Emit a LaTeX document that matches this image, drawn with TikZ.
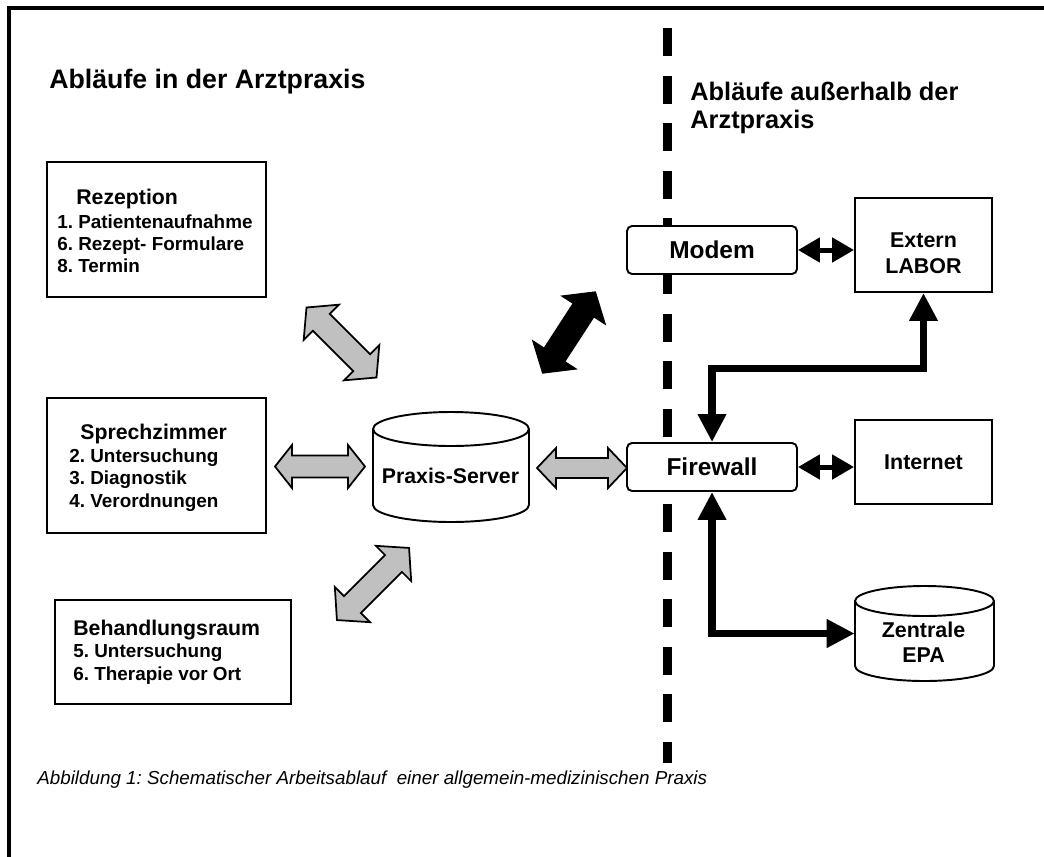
\documentclass[tikz,border=0pt]{standalone}
\usepackage{fontspec}
\setmainfont{Liberation Sans}
\usetikzlibrary{arrows.meta}
\definecolor{arrowgray}{HTML}{C0C0C0}
\frenchspacing
\tikzset{
  pics/dblarrow/.style n args={4}{code={
    \path[pic actions] ({-#1/2},0) -- ({-#1/2+#2},#3) -- ({-#1/2+#2},#4) -- ({#1/2-#2},#4)
      -- ({#1/2-#2},#3) -- ({#1/2},0) -- ({#1/2-#2},-#3) -- ({#1/2-#2},-#4)
      -- ({-#1/2+#2},-#4) -- ({-#1/2+#2},-#3) -- cycle;
  }}
}
\begin{document}
\frenchspacing
\begin{tikzpicture}[x=0.02cm,y=-0.02cm,
  box/.style={draw, line width=1.1pt, inner sep=0pt, fill=white},
  rbox/.style={box, rounded corners=0.1cm},
  ghost/.style={inner sep=0pt},
  hd/.style={anchor=base west, inner sep=0pt, font=\fontsize{12.1}{14}\selectfont\bfseries},
  itm/.style={anchor=base west, inner sep=0pt, font=\fontsize{10.75}{13}\selectfont\bfseries},
  title/.style={anchor=base west, inner sep=0pt, font=\fontsize{14.45}{17}\selectfont\bfseries},
  big/.style={font=\fontsize{13.9}{16}\selectfont\bfseries},
  mid/.style={font=\fontsize{12.2}{14}\selectfont\bfseries},
  midb/.style={anchor=base, inner sep=0pt, mid},
  garrow/.style={draw, line width=1pt, fill=arrowgray, line join=miter},
  barrow/.style={draw, line width=1pt, fill=black, line join=miter},
  conn/.style={line width=0.15cm, {Triangle[length=0.56cm,width=0.54cm]}-{Triangle[length=0.56cm,width=0.54cm]}},
  sconn/.style={line width=0.1cm, {Triangle[length=0.44cm,width=0.48cm]}-{Triangle[length=0.44cm,width=0.48cm]}},
  cyl/.style={draw, line width=1.1pt, fill=white}
]
\useasboundingbox (0,0) rectangle (1044,856);
% frame
\draw[line width=2pt] (1050,8) -- (9,8) -- (9,860);
% dashed separator
\draw[line width=0.18cm, dash pattern=on 0.56cm off 0.392cm] (667.5,28) -- (667.5,763);

% titles
\node[title, font=\fontsize{15.2}{18}\selectfont\bfseries] (t1) at (49,88) {Abläufe in der Arztpraxis};
\node[title] (t2) at (690,100) {Abläufe außerhalb der};
\node[title] (t3) at (690,128) {Arztpraxis};

% left boxes
\node[box, minimum width=4.38cm, minimum height=2.7cm] (rez) at (156.5,229.5) {};
\node[hd] (rez0) at (76,204) {Rezeption};
\node[itm] (rez1) at (57,228) {1. Patientenaufnahme};
\node[itm] (rez2) at (57,250) {6. Rezept- Formulare};
\node[itm] (rez3) at (57,272) {8. Termin};

\node[box, minimum width=4.38cm, minimum height=2.7cm] (spz) at (156.5,465.5) {};
\node[hd] (spz0) at (80,439) {Sprechzimmer};
\node[itm] (spz1) at (69,462) {2. Untersuchung};
\node[itm] (spz2) at (69,484) {3. Diagnostik};
\node[itm] (spz3) at (69,507) {4. Verordnungen};

\node[box, minimum width=4.72cm, minimum height=2.08cm] (beh) at (173,652) {};
\node[hd] (beh0) at (73,635) {Behandlungsraum};
\node[itm] (beh1) at (73,657) {5. Untersuchung};
\node[itm] (beh2) at (73,680) {6. Therapie vor Ort};

% server cylinder
\node[ghost, minimum width=3.12cm, minimum height=2.2cm] (srv) at (451,467) {};
\draw[cyl] (373,429) -- (373,505) arc[start angle=180, end angle=360, x radius=1.56cm, y radius=0.34cm] -- (529,429);
\draw[cyl] (451,429) ellipse[x radius=1.56cm, y radius=0.34cm];
\node[anchor=base, inner sep=0pt, font=\fontsize{12.1}{14}\selectfont\bfseries] (srvt) at (450.5,483) {Praxis-Server};

% right side boxes
\node[rbox, big, minimum width=3.4cm, minimum height=0.96cm] (modem) at (712,250) {Modem};
\node[rbox, big, minimum width=3.4cm, minimum height=0.96cm] (fw) at (712,467) {Firewall};
\node[box, minimum width=2.74cm, minimum height=1.88cm] (lab) at (923.5,245) {};
\node[midb] (lab1) at (923.5,247) {Extern};
\node[midb] (lab2) at (923.5,273) {LABOR};
\node[box, mid, minimum width=2.74cm, minimum height=1.68cm] (inet) at (923.5,462) {Internet};

% EPA cylinder
\node[ghost, minimum width=2.78cm, minimum height=1.9cm] (epa) at (924.5,633.5) {};
\draw[cyl] (855,601) -- (855,666) arc[start angle=180, end angle=360, x radius=1.39cm, y radius=0.3cm] -- (994,601);
\draw[cyl] (924.5,601) ellipse[x radius=1.39cm, y radius=0.3cm];
\node[midb] (epa1) at (923.5,637) {Zentrale};
\node[midb] (epa2) at (923.5,662) {EPA};

% black connectors
\coordinate (jl) at (923.5,368.5);
\draw[conn] (fw.north) |- (jl) -- (lab.south);
\draw[conn] (fw.south) |- (epa.west);
\draw[sconn] (modem.east) -- (modem.east -| lab.west);
\draw[sconn] (fw.east) -- (fw.east -| inet.west);

% block arrows
\pic[garrow, rotate=-45] at (341.5,342.5) {dblarrow={99}{21}{25}{12}};
\pic[garrow] at (320,466.5) {dblarrow={90}{17}{21.5}{11}};
\pic[garrow] at (582,468) {dblarrow={90}{19}{20}{10}};
\pic[garrow, rotate=45] at (373,584) {dblarrow={102}{22}{25}{12}};
\pic[barrow, rotate=57] at (569,332.5) {dblarrow={96}{21}{25}{12}};

% caption
\node[anchor=base west, inner sep=0pt, font=\fontsize{10.7}{12}\selectfont\itshape] (cap) at (37,784) {Abbildung 1: Schematischer Arbeitsablauf\ \ einer allgemein-medizinischen Praxis};
\end{tikzpicture}
\end{document}
